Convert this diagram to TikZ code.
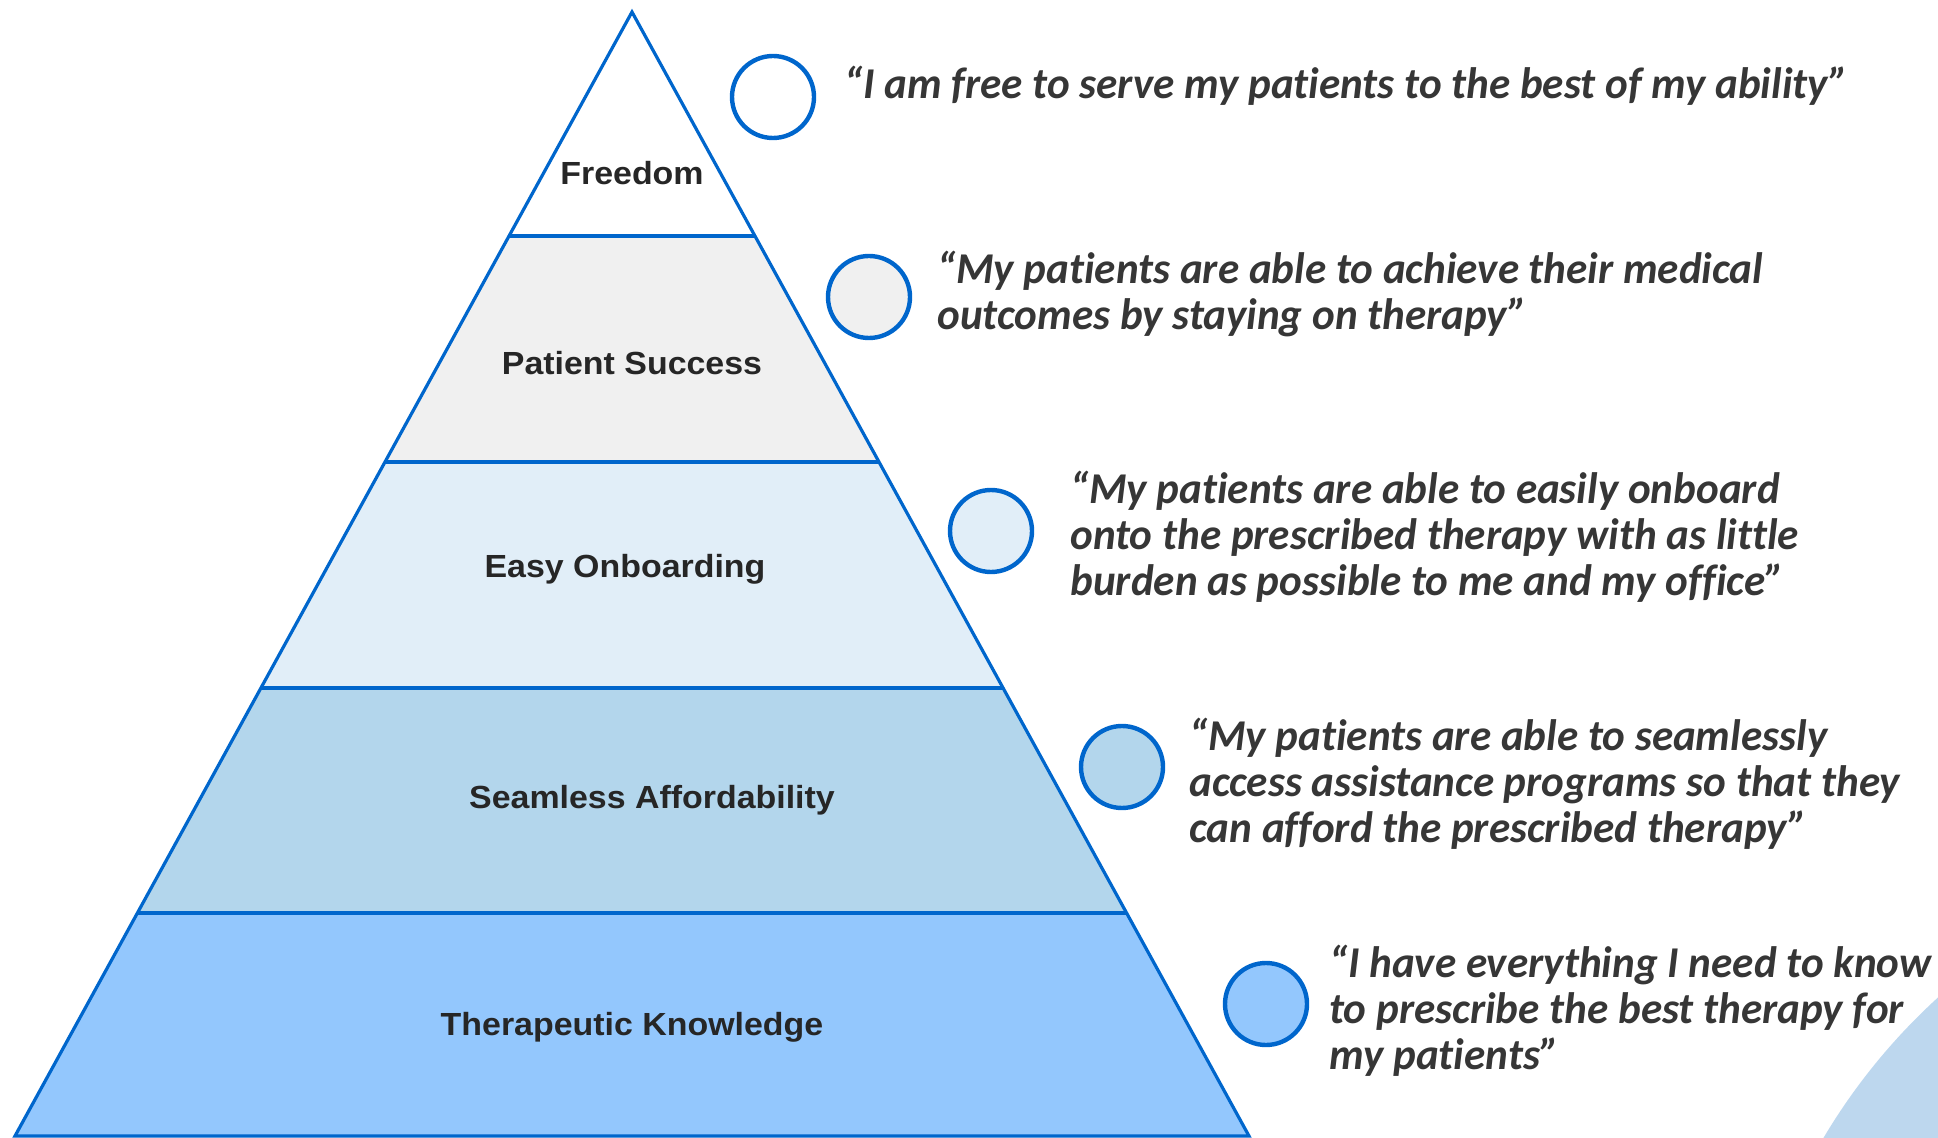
\documentclass[tikz,border=0pt]{standalone}
\usepackage{fontspec}
\setmainfont{Liberation Sans}
\newfontfamily\labelfont[FakeStretch=1.06]{Liberation Sans}
\newfontfamily\quotefont[FakeStretch=0.98,Ligatures=NoCommon]{Carlito}
\definecolor{pyrline}{HTML}{0066CC}
\definecolor{bandA}{HTML}{FFFFFF}
\definecolor{bandB}{HTML}{F0F0F0}
\definecolor{bandC}{HTML}{E1EEF8}
\definecolor{bandD}{HTML}{B3D6EC}
\definecolor{bandE}{HTML}{93C7FD}
\definecolor{decoblue}{HTML}{BDD7EE}
\definecolor{labeltext}{HTML}{262626}
\definecolor{quotetext}{HTML}{363636}
\begin{document}
\begin{tikzpicture}[x=0.5pt,y=-0.5pt,
  band/.style={fill=#1,draw=none},
  sep/.style={draw=pyrline,line width=1.6pt},
  lbl/.style={font=\labelfont\fontsize{16}{19}\selectfont\bfseries,text=labeltext,inner sep=0},
  dot/.style={circle,draw=pyrline,line width=2.2pt,minimum size=41pt,inner sep=0,fill=#1},
  quote/.style={font=\quotefont\fontsize{22}{23}\selectfont\bfseries\itshape,text=quotetext,align=left,anchor=west,inner sep=0}]
\useasboundingbox (0,0) rectangle (1938,1138);
% decorative arc bottom right
\begin{scope}
\clip (0,0) rectangle (1938,1138);
\fill[decoblue] (2350,1450) circle[radius=612];
\end{scope}
% bands
\fill[bandA] (632,12) -- (755,236) -- (509,236) -- cycle;
\fill[bandB] (509,236) -- (755,236) -- (879,462) -- (385,462) -- cycle;
\fill[bandC] (385,462) -- (879,462) -- (1003,688) -- (261,688) -- cycle;
\fill[bandD] (261,688) -- (1003,688) -- (1127,913) -- (137,913) -- cycle;
\fill[bandE] (137,913) -- (1127,913) -- (1249,1136) -- (15,1136) -- cycle;
\draw[sep] (509,236) -- (755,236);
\draw[sep] (385,462) -- (879,462);
\draw[sep] (261,688) -- (1003,688);
\draw[sep] (137,913) -- (1127,913);
\draw[sep,line join=miter] (15,1136) -- (632,12) -- (1249,1136) -- cycle;
% labels
\node[lbl] (l1) at (632,173) {Freedom};
\node[lbl] (l2) at (632,363) {Patient Success};
\node[lbl] (l3) at (625,569) {Easy Onboarding};
\node[lbl] (l4) at (652,800) {Seamless Affordability};
\node[lbl] (l5) at (632,1027) {Therapeutic Knowledge};
% circles
\node[dot=bandA] (c1) at (773,97) {};
\node[dot=bandB] (c2) at (869,297) {};
\node[dot=bandC] (c3) at (991,531) {};
\node[dot=bandD] (c4) at (1122,767) {};
\node[dot=bandE] (c5) at (1266,1004) {};
% quotes
\node[quote] (q1) at (844,86) {“I am free to serve my patients to the best of my ability”};
\node[quote] (q2) at (937,294) {“My patients are able to achieve their medical\\outcomes by staying on therapy”};
\node[quote] (q3) at (1070,537) {“My patients are able to easily onboard\\onto the prescribed therapy with as little\\burden as possible to me and my office”};
\node[quote] (q4) at (1189,784) {“My patients are able to seamlessly\\access assistance programs so that they\\can afford the prescribed therapy”};
\node[quote] (q5) at (1329,1011) {“I have everything I need to know\\to prescribe the best therapy for\\my patients”};
\end{tikzpicture}
\end{document}
